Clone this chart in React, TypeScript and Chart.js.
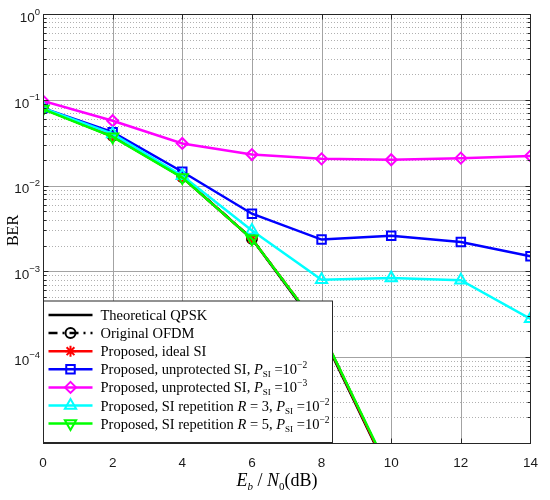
import React, { useEffect, useRef } from 'react';
import { Chart, registerables } from 'chart.js';
import { drawPoint } from 'chart.js/helpers';

Chart.register(...registerables);

// Eb/N0 in dB
const ebn0 = [0, 2, 4, 6, 8, 10, 12, 14];

// BER values
const theoreticalQpsk = [0.0786, 0.0375, 0.0125, 0.0024, 0.00019, 0.0000039];
const originalOfdm = [0.079, 0.038, 0.0126, 0.0024, 0.0002, 0.000004];
const idealSi = [0.079, 0.0376, 0.0125, 0.0024, 0.0002, 0.000004];
const unprotected2 = [0.08, 0.042, 0.0145, 0.0047, 0.00235, 0.0026, 0.0022, 0.0015];
const unprotected3 = [0.097, 0.057, 0.031, 0.023, 0.0205, 0.02, 0.0209, 0.0222];
const repetition3 = [0.08, 0.04, 0.013, 0.003, 0.0008, 0.00084, 0.00079, 0.00028];
const repetition5 = [0.078, 0.037, 0.0124, 0.0024, 0.0002, 0.0000042];

const xTicks = [0, 2, 4, 6, 8, 10, 12, 14];
const yDecades = [1e-5, 1e-4, 1e-3, 1e-2, 1e-1, 1];
const yExponents = ['', '\u22124', '\u22123', '\u22122', '\u22121', '0'];
const minorSteps = [2, 3, 4, 5, 6, 7, 8, 9];

const SERIF = '"Liberation Serif", "Times New Roman", serif';
const SANS = '"Liberation Sans", Arial, sans-serif';

type Seg = { t: string; italic?: boolean; size?: number; dy?: number };

const psi = (exp: string): Seg[] => [
  { t: 'P', italic: true },
  { t: 'SI', size: 9, dy: 3 },
  { t: ' =10' },
  { t: exp, size: 9.5, dy: -6 },
];

const series = [
  { label: 'Theoretical QPSK', data: theoreticalQpsk, color: '#000000', dash: [] as number[], style: false as any, radius: 0, rot: 0,
    legend: [{ t: 'Theoretical QPSK' }] as Seg[] },
  { label: 'Original OFDM', data: originalOfdm, color: '#000000', dash: [9, 5, 2, 5], style: 'circle', radius: 5, rot: 0,
    legend: [{ t: 'Original OFDM' }] as Seg[] },
  { label: 'Proposed, ideal SI', data: idealSi, color: '#ff0000', dash: [], style: 'star', radius: 5.5, rot: 0,
    legend: [{ t: 'Proposed, ideal SI' }] as Seg[] },
  { label: 'Proposed, unprotected SI, P_SI=10^-2', data: unprotected2, color: '#0000ff', dash: [], style: 'rect', radius: 6, rot: 0,
    legend: [{ t: 'Proposed, unprotected SI, ' }, ...psi('\u22122')] },
  { label: 'Proposed, unprotected SI, P_SI=10^-3', data: unprotected3, color: '#ff00ff', dash: [], style: 'rectRot', radius: 5.5, rot: 0,
    legend: [{ t: 'Proposed, unprotected SI, ' }, ...psi('\u22123')] },
  { label: 'Proposed, SI repetition R=3, P_SI=10^-2', data: repetition3, color: '#00ffff', dash: [], style: 'triangle', radius: 6.5, rot: 0,
    legend: [{ t: 'Proposed, SI repetition ' }, { t: 'R', italic: true }, { t: ' = 3, ' }, ...psi('\u22122')] },
  { label: 'Proposed, SI repetition R=5, P_SI=10^-2', data: repetition5, color: '#00ff00', dash: [], style: 'triangle', radius: 6.5, rot: 180,
    legend: [{ t: 'Proposed, SI repetition ' }, { t: 'R', italic: true }, { t: ' = 5, ' }, ...psi('\u22122')] },
];

function drawRich(ctx: CanvasRenderingContext2D, x: number, y: number, segs: Seg[], base: number, measureOnly = false) {
  let cx = x;
  for (const s of segs) {
    ctx.font = `${s.italic ? 'italic ' : ''}${s.size ?? base}px ${SERIF}`;
    if (!measureOnly) ctx.fillText(s.t, cx, y + (s.dy ?? 0));
    cx += ctx.measureText(s.t).width;
  }
  return cx - x;
}

const gridPlugin = {
  id: 'matlabGrid',
  beforeDatasetsDraw(chart: Chart) {
    const { ctx, chartArea: a } = chart;
    const xs = chart.scales.x;
    const ys = chart.scales.y;
    ctx.save();
    ctx.lineWidth = 1;
    ctx.strokeStyle = '#b0b0b0';
    ctx.setLineDash([1, 2]);
    for (const d of yDecades.slice(0, -1)) {
      for (const m of minorSteps) {
        const py = Math.round(ys.getPixelForValue(d * m)) + 0.5;
        ctx.beginPath();
        ctx.moveTo(a.left, py);
        ctx.lineTo(a.right, py);
        ctx.stroke();
      }
    }
    ctx.setLineDash([]);
    ctx.strokeStyle = '#a3a3a3';
    for (const d of yDecades) {
      const py = Math.round(ys.getPixelForValue(d)) + 0.5;
      ctx.beginPath();
      ctx.moveTo(a.left, py);
      ctx.lineTo(a.right, py);
      ctx.stroke();
    }
    for (const t of xTicks) {
      const px = Math.round(xs.getPixelForValue(t)) + 0.5;
      ctx.beginPath();
      ctx.moveTo(px, a.top);
      ctx.lineTo(px, a.bottom);
      ctx.stroke();
    }
    ctx.restore();
  },
  afterDraw(chart: Chart) {
    const { ctx, chartArea: a } = chart;
    const xs = chart.scales.x;
    const ys = chart.scales.y;
    ctx.save();

    // frame and inward ticks
    ctx.strokeStyle = '#262626';
    ctx.lineWidth = 1;
    const L = Math.round(a.left) + 0.5, R = Math.round(a.right) + 0.5;
    const T = Math.round(a.top) + 0.5, B = Math.round(a.bottom) + 0.5;
    ctx.strokeRect(L, T, R - L, B - T);
    ctx.beginPath();
    for (const d of yDecades) {
      const py = Math.round(ys.getPixelForValue(d)) + 0.5;
      ctx.moveTo(L, py); ctx.lineTo(L + 5, py);
      ctx.moveTo(R, py); ctx.lineTo(R - 5, py);
      if (d < 1) {
        for (const m of minorSteps) {
          const pm = Math.round(ys.getPixelForValue(d * m)) + 0.5;
          ctx.moveTo(L, pm); ctx.lineTo(L + 3, pm);
          ctx.moveTo(R, pm); ctx.lineTo(R - 3, pm);
        }
      }
    }
    for (const t of xTicks) {
      const px = Math.round(xs.getPixelForValue(t)) + 0.5;
      ctx.moveTo(px, B); ctx.lineTo(px, B - 5);
      ctx.moveTo(px, T); ctx.lineTo(px, T + 5);
    }
    ctx.stroke();

    // y tick labels 10^n
    ctx.fillStyle = '#1a1a1a';
    ctx.textBaseline = 'middle';
    yDecades.forEach((d, i) => {
      const e = yExponents[i];
      if (!e) return;
      const py = ys.getPixelForValue(d);
      ctx.font = `9.5px ${SANS}`;
      const we = ctx.measureText(e).width;
      ctx.font = `13.5px ${SANS}`;
      const wb = ctx.measureText('10').width;
      const right = a.left - 3;
      ctx.fillText('10', right - we - wb, py + 4);
      ctx.font = `9.5px ${SANS}`;
      ctx.fillText(e, right - we, py - 2);
    });

    // axis titles
    ctx.fillStyle = '#000';
    ctx.textBaseline = 'alphabetic';
    ctx.save();
    ctx.translate(18, (a.top + a.bottom) / 2 + 2);
    ctx.rotate(-Math.PI / 2);
    ctx.font = `16px ${SERIF}`;
    ctx.textAlign = 'center';
    ctx.fillText('BER', 0, 0);
    ctx.restore();
    const xlab: Seg[] = [
      { t: 'E', italic: true },
      { t: 'b', italic: true, size: 11, dy: 4 },
      { t: ' / ' },
      { t: 'N', italic: true },
      { t: '0', size: 11, dy: 4 },
      { t: '(dB)' },
    ];
    const wl = drawRich(ctx, 0, 0, xlab, 18, true);
    drawRich(ctx, 277 - wl / 2, 486, xlab, 18);

    // legend
    const lx = L, ly = 301, lw = 289, lh = B - 1 - ly;
    ctx.fillStyle = '#ffffff';
    ctx.fillRect(lx, ly, lw, lh);
    ctx.strokeStyle = '#262626';
    ctx.lineWidth = 1;
    ctx.strokeRect(lx, ly, lw, lh);
    series.forEach((s, i) => {
      const cy = ly + 14 + i * 18.1;
      ctx.strokeStyle = s.color;
      ctx.lineWidth = 2.5;
      ctx.setLineDash(s.dash);
      ctx.beginPath();
      ctx.moveTo(lx + 5, cy);
      ctx.lineTo(lx + 49, cy);
      ctx.stroke();
      ctx.setLineDash([]);
      if (s.style) {
        ctx.lineWidth = 2;
        ctx.fillStyle = 'rgba(0,0,0,0)';
        drawPoint(ctx, { pointStyle: s.style, rotation: s.rot, radius: s.radius, borderWidth: 2 } as any, lx + 27, cy);
      }
      ctx.fillStyle = '#000';
      drawRich(ctx, lx + 57, cy + 5, s.legend, 14.5);
    });
    ctx.restore();
  },
};

const App: React.FC = () => {
  const canvasRef = useRef<HTMLCanvasElement>(null);
  const chartRef = useRef<Chart | null>(null);

  useEffect(() => {
    if (!canvasRef.current) return;
    if (chartRef.current) chartRef.current.destroy();

    chartRef.current = new Chart(canvasRef.current, {
      type: 'line',
      data: {
        datasets: series.map((s, i) => ({
          label: s.label,
          data: s.data.map((v, j) => ({ x: ebn0[j], y: v })),
          borderColor: s.color,
          backgroundColor: 'rgba(0,0,0,0)',
          borderWidth: 2.5,
          borderDash: s.dash,
          pointStyle: s.style,
          pointRadius: s.radius,
          pointRotation: s.rot,
          pointBorderColor: s.color,
          pointBackgroundColor: 'rgba(0,0,0,0)',
          pointBorderWidth: 2,
          tension: 0,
          order: series.length - i,
        })),
      },
      options: {
        animation: false,
        responsive: true,
        maintainAspectRatio: false,
        layout: { padding: { top: 14, right: 17, left: 0, bottom: 0 } },
        plugins: {
          legend: { display: false },
          tooltip: { enabled: false },
        },
        scales: {
          x: {
            type: 'linear',
            min: 0,
            max: 14,
            afterBuildTicks: (s: any) => {
              s.ticks = xTicks.map((v) => ({ value: v }));
            },
            afterFit: (s: any) => {
              s.height = 57;
            },
            ticks: {
              font: { family: SANS, size: 13.5 },
              color: '#1a1a1a',
              padding: 12,
              maxRotation: 0,
            },
            grid: { display: false, drawTicks: false },
            border: { display: false },
          },
          y: {
            type: 'logarithmic',
            min: 1e-5,
            max: 1,
            afterFit: (s: any) => {
              s.width = 43;
            },
            ticks: { display: false },
            grid: { display: false, drawTicks: false },
            border: { display: false },
          },
        },
      },
      plugins: [gridPlugin as any],
    });

    return () => {
      if (chartRef.current) {
        chartRef.current.destroy();
        chartRef.current = null;
      }
    };
  }, []);

  return (
    <div style={{ position: 'absolute', left: 0, top: 0, width: 550, height: 500, background: '#fff' }}>
      <canvas ref={canvasRef}></canvas>
    </div>
  );
};

export default App;
